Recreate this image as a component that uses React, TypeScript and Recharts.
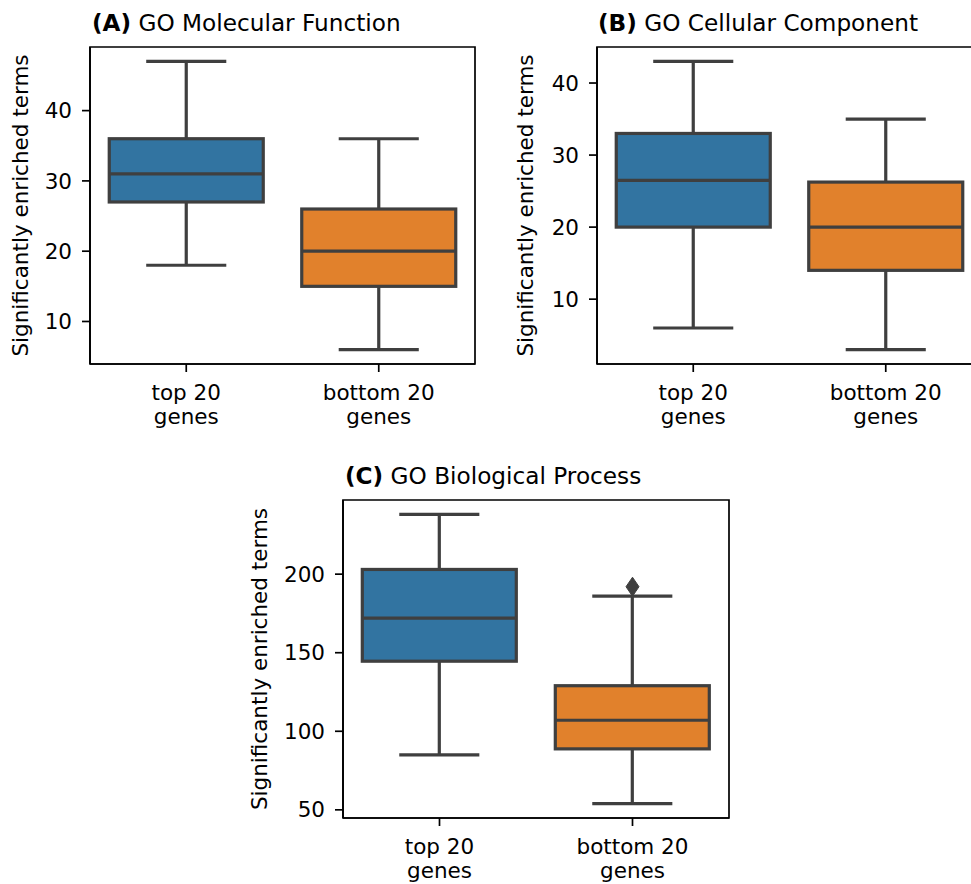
import React from 'react';
import { ComposedChart, Bar, Scatter, XAxis, YAxis, ReferenceArea } from 'recharts';

const FONT = 'DejaVu Sans, Verdana, sans-serif';
const TICK_FS = 21.5;
const TITLE_FS = 23.2;
const LINE = '#3f3f3f';

const categories = ['top 20 genes', 'bottom 20 genes'];
const tickLines = [['top 20', 'genes'], ['bottom 20', 'genes']];
const boxColors = ['#3274A1', '#E1812C'];

// (A) GO Molecular Function
const mfMin = [18, 6];
const mfQ1 = [27, 15];
const mfMed = [31, 20];
const mfQ3 = [36, 26];
const mfMax = [47, 36];
const mfOutliers: (number | null)[] = [null, null];
const mfTicks = [10, 20, 30, 40];
const mfDomain = [3.95, 49.05];

// (B) GO Cellular Component
const ccMin = [6, 3];
const ccQ1 = [20, 14];
const ccMed = [26.5, 20];
const ccQ3 = [33, 26.25];
const ccMax = [43, 35];
const ccOutliers: (number | null)[] = [null, null];
const ccTicks = [10, 20, 30, 40];
const ccDomain = [1, 45];

// (C) GO Biological Process
const bpMin = [85, 54];
const bpQ1 = [144.6, 88.8];
const bpMed = [172, 107];
const bpQ3 = [203, 129];
const bpMax = [238, 186];
const bpOutliers: (number | null)[] = [null, 192];
const bpTicks = [50, 100, 150, 200];
const bpDomain = [44.8, 247.2];

function buildRows(
  mn: number[],
  q1: number[],
  med: number[],
  q3: number[],
  mx: number[],
  out: (number | null)[]
) {
  return categories.map((name, i) => ({
    name,
    min: mn[i],
    q1: q1[i],
    med: med[i],
    q3: q3[i],
    max: mx[i],
    outlier: out[i],
    color: boxColors[i],
  }));
}

const BoxShape = (props: any) => {
  const { x, y, width, height, payload } = props;
  if (!payload || !isFinite(y) || !isFinite(height)) return <g />;
  const top = Math.min(y, y + height);
  const bottom = Math.max(y, y + height);
  const lo = payload.min;
  const hi = payload.max;
  const py = (v: number) => bottom - ((bottom - top) * (v - lo)) / (hi - lo);
  const cx = x + width / 2;
  const capHalf = width * 0.26;
  const yQ1 = py(payload.q1);
  const yQ3 = py(payload.q3);
  const yMed = py(payload.med);
  const sw = 3.2;
  return (
    <g>
      <line x1={cx} x2={cx} y1={bottom} y2={yQ1} stroke={LINE} strokeWidth={sw} />
      <line x1={cx} x2={cx} y1={top} y2={yQ3} stroke={LINE} strokeWidth={sw} />
      <line x1={cx - capHalf} x2={cx + capHalf} y1={bottom} y2={bottom} stroke={LINE} strokeWidth={sw} />
      <line x1={cx - capHalf} x2={cx + capHalf} y1={top} y2={top} stroke={LINE} strokeWidth={sw} />
      <rect x={x} y={yQ3} width={width} height={yQ1 - yQ3} fill={payload.color} stroke={LINE} strokeWidth={sw} />
      <line x1={x} x2={x + width} y1={yMed} y2={yMed} stroke={LINE} strokeWidth={sw} />
    </g>
  );
};

const DiamondShape = (props: any) => {
  const { cx, cy, payload } = props;
  if (!payload || payload.outlier === null || payload.outlier === undefined) return <g />;
  if (!isFinite(cx) || !isFinite(cy)) return <g />;
  const hw = 6.5;
  const hh = 9.5;
  return (
    <polygon
      points={`${cx},${cy - hh} ${cx + hw},${cy} ${cx},${cy + hh} ${cx - hw},${cy}`}
      fill={LINE}
      stroke={LINE}
      strokeWidth={1}
    />
  );
};

const XTick = (props: any) => {
  const { x, y, payload } = props;
  const idx = categories.indexOf(payload.value);
  const lines = tickLines[idx] || [String(payload.value)];
  return (
    <text x={x} y={y} textAnchor="middle" fontFamily={FONT} fontSize={TICK_FS} fill="#000">
      <tspan x={x} dy={26}>{lines[0]}</tspan>
      <tspan x={x} dy={24}>{lines[1]}</tspan>
    </text>
  );
};

const axisStyle = { stroke: '#000', strokeWidth: 1.7 };

function Panel(props: {
  left: number;
  top: number;
  width: number;
  height: number;
  margin: { top: number; right: number; bottom: number; left: number };
  rows: any[];
  domain: number[];
  ticks: number[];
}) {
  const { left, top, width, height, margin, rows, domain, ticks } = props;
  const hasOutliers = rows.some((r) => r.outlier !== null && r.outlier !== undefined);
  return (
    <div style={{ position: 'absolute', left, top, width, height }}>
      <ComposedChart width={width} height={height} data={rows} margin={margin} barCategoryGap="10%">
        <XAxis
          dataKey="name"
          type="category"
          tick={<XTick />}
          tickSize={8}
          tickMargin={2}
          height={60}
          interval={0}
          axisLine={axisStyle}
          tickLine={axisStyle}
        />
        <YAxis
          type="number"
          domain={domain as any}
          ticks={ticks}
          interval={0}
          allowDataOverflow
          width={40}
          tickSize={8}
          tickMargin={10}
          axisLine={axisStyle}
          tickLine={axisStyle}
          tick={{ fill: '#000', fontSize: TICK_FS, fontFamily: FONT }}
        />
        <ReferenceArea
          y1={domain[0]}
          y2={domain[1]}
          fill="none"
          fillOpacity={0}
          stroke="#000"
          strokeWidth={1.7}
          ifOverflow="visible"
        />
        <Bar dataKey={(d: any) => [d.min, d.max]} shape={<BoxShape />} isAnimationActive={false} />
        {hasOutliers && (
          <Scatter dataKey="outlier" shape={<DiamondShape />} isAnimationActive={false} />
        )}
      </ComposedChart>
    </div>
  );
}

const panelTitles = [
  { tag: '(A)', text: 'GO Molecular Function', x: 92, y: 30.5 },
  { tag: '(B)', text: 'GO Cellular Component', x: 598, y: 30.5 },
  { tag: '(C)', text: 'GO Biological Process', x: 345, y: 483.5 },
];
const yLabelText = 'Significantly enriched terms';
const yLabels = [
  { x: 28, y: 205.5 },
  { x: 533, y: 205.5 },
  { x: 267, y: 659 },
];

export default function App() {
  const mfRows = buildRows(mfMin, mfQ1, mfMed, mfQ3, mfMax, mfOutliers);
  const ccRows = buildRows(ccMin, ccQ1, ccMed, ccQ3, ccMax, ccOutliers);
  const bpRows = buildRows(bpMin, bpQ1, bpMed, bpQ3, bpMax, bpOutliers);
  return (
    <div
      style={{
        position: 'fixed',
        left: 0,
        top: 0,
        width: 971,
        height: 884,
        overflow: 'hidden',
        background: '#fff',
        fontFamily: FONT,
      }}
    >
      <Panel
        left={0}
        top={0}
        width={490}
        height={440}
        margin={{ top: 47, right: 15, bottom: 16, left: 50 }}
        rows={mfRows}
        domain={mfDomain}
        ticks={mfTicks}
      />
      <Panel
        left={490}
        top={0}
        width={492}
        height={440}
        margin={{ top: 47, right: 0, bottom: 16, left: 67 }}
        rows={ccRows}
        domain={ccDomain}
        ticks={ccTicks}
      />
      <Panel
        left={240}
        top={450}
        width={500}
        height={434}
        margin={{ top: 50, right: 11, bottom: 6, left: 63 }}
        rows={bpRows}
        domain={bpDomain}
        ticks={bpTicks}
      />
      <svg
        width={971}
        height={884}
        style={{ position: 'absolute', left: 0, top: 0, pointerEvents: 'none' }}
      >
        {panelTitles.map((t) => (
          <text key={t.tag} x={t.x} y={t.y} fontFamily={FONT} fontSize={TITLE_FS} fill="#000">
            <tspan fontWeight="bold">{t.tag}</tspan>
            <tspan> {t.text}</tspan>
          </text>
        ))}
        {yLabels.map((l, i) => (
          <text
            key={i}
            x={l.x}
            y={l.y}
            transform={`rotate(-90 ${l.x} ${l.y})`}
            textAnchor="middle"
            fontFamily={FONT}
            fontSize={TICK_FS}
            fill="#000"
          >
            {yLabelText}
          </text>
        ))}
      </svg>
    </div>
  );
}
